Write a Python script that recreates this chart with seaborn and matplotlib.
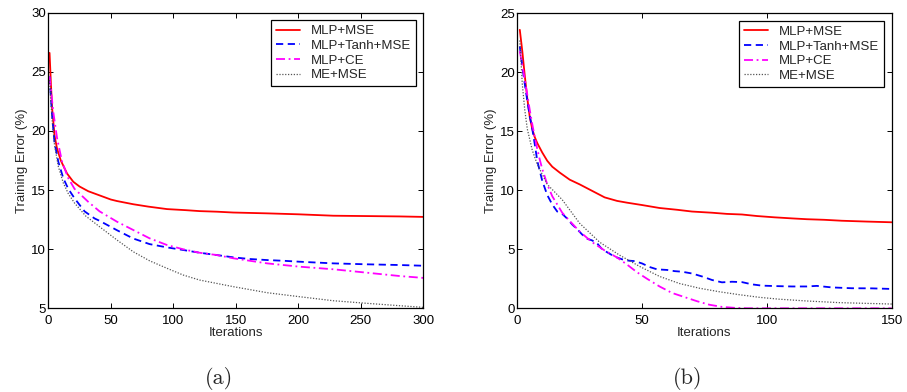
import matplotlib
matplotlib.use("Agg")
import matplotlib.pyplot as plt
import seaborn as sns

# ---------------- data: panel (a) ----------------
a_mse_x = [1, 2, 3, 5, 7, 10, 15, 20, 25, 32, 41, 50, 55, 68, 80, 95, 110, 121, 135, 148, 175, 200, 228, 255, 281, 300]
a_mse_y = [26.6, 24.2, 22.0, 19.6, 18.5, 17.5, 16.4, 15.7, 15.3, 14.9, 14.55, 14.2, 14.07, 13.8, 13.6, 13.39, 13.3, 13.22, 13.17, 13.1, 13.03, 12.95, 12.83, 12.8, 12.77, 12.73]

a_tanh_x = [1, 2, 3, 5, 8, 12, 16, 21, 29, 37, 41, 55, 68, 81, 95, 108, 121, 135, 148, 161, 175, 188, 201, 228, 255, 281, 300]
a_tanh_y = [24.6, 23.0, 21.3, 19.0, 17.4, 16.0, 15.1, 14.3, 13.2, 12.6, 12.4, 11.6, 10.9, 10.43, 10.15, 9.93, 9.7, 9.5, 9.31, 9.17, 9.08, 9.02, 8.94, 8.8, 8.72, 8.66, 8.6]

a_ce_x = [1, 2, 4, 7, 11, 16, 21, 32, 41, 55, 68, 81, 95, 108, 121, 135, 148, 175, 201, 228, 255, 281, 300]
a_ce_y = [24.6, 23.6, 21.6, 19.4, 17.4, 16.0, 15.1, 14.0, 13.2, 12.32, 11.62, 10.92, 10.35, 9.99, 9.7, 9.5, 9.23, 8.8, 8.52, 8.3, 8.01, 7.73, 7.57]

a_me_x = [1, 3, 5, 8, 12, 16, 21, 30, 41, 55, 68, 81, 95, 108, 121, 148, 175, 201, 228, 255, 281, 300]
a_me_y = [24.3, 21.0, 18.8, 17.0, 15.6, 14.7, 13.9, 12.8, 11.9, 10.77, 9.78, 9.02, 8.38, 7.81, 7.39, 6.83, 6.32, 5.98, 5.64, 5.42, 5.22, 5.08]

# ---------------- data: panel (b) ----------------
b_mse_x = [1, 2, 3, 4, 5, 6, 7, 8, 10, 12, 14, 17, 21, 25, 30, 35, 40, 44, 50, 57, 64, 70, 78, 84, 90, 96, 103, 110, 116, 123, 130, 140, 150]
b_mse_y = [23.6, 21.8, 19.7, 17.8, 16.2, 15.2, 14.5, 14.0, 13.2, 12.5, 12.0, 11.5, 10.9, 10.5, 9.95, 9.4, 9.1, 8.95, 8.75, 8.5, 8.35, 8.2, 8.1, 8.0, 7.95, 7.82, 7.71, 7.62, 7.55, 7.5, 7.42, 7.35, 7.29]

b_tanh_x = [1, 2, 3, 4, 5, 6, 7, 8, 10, 12, 14, 16, 18, 20, 22, 24, 26, 28, 30, 32, 34, 36, 38, 40, 42, 44, 47, 50, 53, 56, 60, 63, 66, 70, 74, 78, 82, 86, 90, 94, 98, 104, 110, 116, 120, 126, 134, 142, 150]
b_tanh_y = [22.2, 20.5, 19.0, 17.6, 16.3, 15.2, 13.9, 12.5, 10.8, 9.6, 8.8, 8.2, 8.0, 7.6, 7.1, 6.7, 6.25, 5.9, 5.75, 5.5, 5.0, 4.75, 4.5, 4.3, 4.15, 4.05, 4.0, 3.8, 3.5, 3.3, 3.25, 3.15, 3.1, 2.95, 2.7, 2.4, 2.2, 2.25, 2.22, 2.03, 1.92, 1.88, 1.85, 1.85, 1.9, 1.77, 1.7, 1.69, 1.64]

b_ce_x = [1, 2, 3, 4, 5, 6, 7, 8, 9, 10, 12, 14, 16, 18, 21, 25, 30, 35, 40, 44, 48, 52, 57, 62, 67, 72, 77, 82, 87, 92, 100, 120, 150]
b_ce_y = [21.8, 20.6, 19.4, 18.1, 16.8, 15.6, 14.5, 13.5, 12.6, 11.8, 10.5, 9.5, 8.8, 8.1, 7.4, 6.5, 5.6, 4.9, 4.3, 3.7, 3.05, 2.5, 1.85, 1.3, 0.95, 0.6, 0.3, 0.12, 0.04, 0.0, 0.0, 0.0, 0.0]

b_me_x = [1, 2, 3, 4, 6, 8, 12, 18, 25, 33, 41, 49, 57, 65, 73, 81, 89, 97, 105, 116, 129, 150]
b_me_y = [22.7, 19.0, 16.8, 15.2, 13.4, 12.2, 10.5, 9.2, 7.2, 5.6, 4.5, 3.55, 2.7, 2.1, 1.7, 1.4, 1.15, 0.93, 0.77, 0.62, 0.48, 0.36]

labels = ["MLP+MSE", "MLP+Tanh+MSE", "MLP+CE", "ME+MSE"]
captions = ["(a)", "(b)"]

sns.set_style("ticks")
plt.rcParams["font.family"] = ["Liberation Sans", "DejaVu Sans"]
plt.rcParams["xtick.direction"] = "in"
plt.rcParams["ytick.direction"] = "in"
plt.rcParams["xtick.top"] = True
plt.rcParams["ytick.right"] = True

fig = plt.figure(figsize=(9.07, 3.92), dpi=100)
ax1 = fig.add_axes([48.3 / 907, 1 - 308.3 / 392, 375 / 907, 295.6 / 392])
ax2 = fig.add_axes([517.3 / 907, 1 - 308.3 / 392, 374.4 / 907, 295 / 392])

styles = [
    dict(color="#ff0000", linestyle="-", linewidth=1.3),
    dict(color="#0000ff", linestyle=(0, (4, 2.5)), linewidth=1.3),
    dict(color="#ff00ff", linestyle=(0, (5, 2, 1, 2)), linewidth=1.3),
    dict(color="#555555", linestyle=(0, (1, 1.3)), linewidth=0.9),
]

panels = [
    (ax1, [(a_mse_x, a_mse_y), (a_tanh_x, a_tanh_y), (a_ce_x, a_ce_y), (a_me_x, a_me_y)],
     (0, 300), (5, 30), [0, 50, 100, 150, 200, 250, 300], [5, 10, 15, 20, 25, 30]),
    (ax2, [(b_mse_x, b_mse_y), (b_tanh_x, b_tanh_y), (b_ce_x, b_ce_y), (b_me_x, b_me_y)],
     (0, 150), (0, 25), [0, 50, 100, 150], [0, 5, 10, 15, 20, 25]),
]

FS = 9.5
for ax, series, xl, yl, xt, yt in panels:
    for (x, y), lab, st in zip(series, labels, styles):
        sns.lineplot(x=x, y=y, ax=ax, label=lab, estimator=None, sort=False, **st)
    ax.set_xlim(*xl)
    ax.set_ylim(*yl)
    ax.set_xticks(xt)
    ax.set_yticks(yt)
    ax.tick_params(labelsize=FS, length=3.5, width=0.7, colors="black")
    ax.tick_params(axis="x", pad=4.5)
    ax.tick_params(axis="y", pad=1.5)
    for s in ax.spines.values():
        s.set_linewidth(0.9)
        s.set_color("black")
    ax.set_xlabel("Iterations", fontsize=FS, labelpad=0)
    ax.set_ylabel("Training Error (%)", fontsize=FS, labelpad=2.5)
    leg = ax.legend(loc="upper right", fontsize=FS, frameon=True, fancybox=False,
                    edgecolor="black", framealpha=1, borderaxespad=0.55,
                    labelspacing=0.19, handlelength=1.8, borderpad=0.38, handletextpad=0.85)
    leg.get_frame().set_linewidth(0.9)

fig.text(219 / 907, 1 - 378 / 392, captions[0], fontsize=16, family="cmr10", ha="center", va="center")
fig.text(688 / 907, 1 - 378 / 392, captions[1], fontsize=16, family="cmr10", ha="center", va="center")

fig.savefig("out.png", dpi=100)
